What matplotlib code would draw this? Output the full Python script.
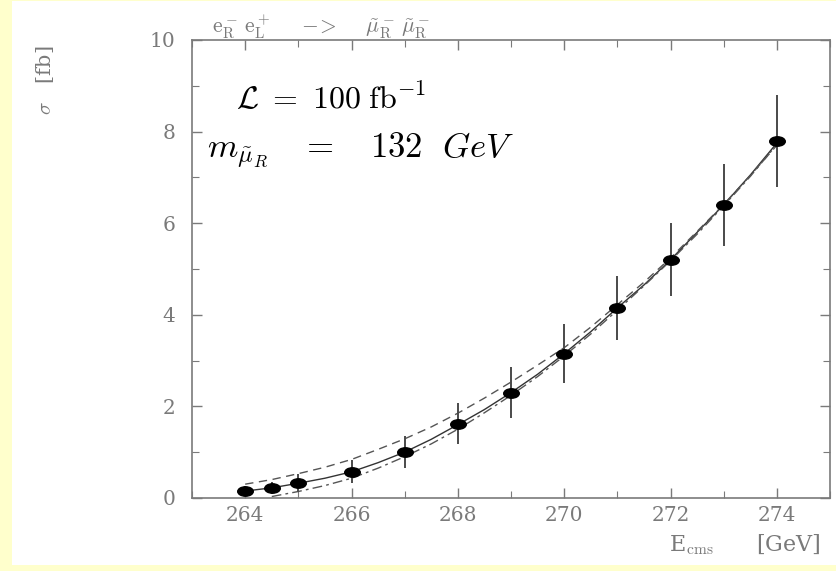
import matplotlib
matplotlib.use("Agg")
import matplotlib.pyplot as plt
from matplotlib.markers import MarkerStyle
from matplotlib.transforms import Affine2D
from matplotlib.patches import Rectangle

# Datos (seccion eficaz cerca del umbral)
energia = [264, 264.5, 265, 266, 267, 268, 269, 270, 271, 272, 273, 274]
sigma = [0.15, 0.22, 0.32, 0.57, 1.0, 1.62, 2.3, 3.15, 4.15, 5.2, 6.4, 7.8]
error = [0.1, 0.13, 0.2, 0.25, 0.35, 0.45, 0.55, 0.65, 0.7, 0.8, 0.9, 1.0]

# Curvas de ajuste (valores leidos cada 0.5 GeV)
e_curva = [264, 264.5, 265, 265.5, 266, 266.5, 267, 267.5, 268, 268.5, 269,
           269.5, 270, 270.5, 271, 271.5, 272, 272.5, 273, 273.5, 274]
ajuste = [0.15, 0.22, 0.32, 0.43, 0.57, 0.77, 1.0, 1.28, 1.6, 1.93, 2.3,
          2.7, 3.15, 3.63, 4.15, 4.65, 5.2, 5.8, 6.4, 7.05, 7.75]
ajuste_sup = [0.3, 0.4, 0.53, 0.67, 0.84, 1.06, 1.29, 1.55, 1.85, 2.18, 2.53,
              2.9, 3.28, 3.73, 4.22, 4.71, 5.24, 5.82, 6.41, 7.04, 7.7]
e_inf = [264.5, 265, 265.5, 266, 266.5, 267, 267.5, 268, 268.5, 269,
         269.5, 270, 270.5, 271, 271.5, 272, 272.5, 273, 273.5, 274]
ajuste_inf = [0.03, 0.14, 0.27, 0.43, 0.65, 0.9, 1.18, 1.5, 1.86, 2.24,
              2.65, 3.1, 3.58, 4.1, 4.63, 5.18, 5.76, 6.38, 7.02, 7.72]

plt.rcParams['mathtext.fontset'] = 'cm'
gris = '#7a7a7a'

fig = plt.figure(figsize=(8.37, 5.71), dpi=100)
fig.patch.set_facecolor('#FFFFCC')
# panel blanco del fondo
fig.patches.append(Rectangle((0.0143, 0.0105), 0.99, 0.988, transform=fig.transFigure,
                             facecolor='white', edgecolor='none', zorder=-10))

ax = fig.add_axes([0.2294, 0.128, 0.7623, 0.802])
ax.set_facecolor('white')

ax.plot(e_curva, ajuste, color='#333333', linewidth=1.0, zorder=2)
ax.plot(e_curva, ajuste_sup, color='#555555', linewidth=1.0, linestyle=(0, (6, 4)), zorder=2)
ax.plot(e_inf, ajuste_inf, color='#555555', linewidth=1.0, linestyle=(0, (7, 3, 2, 3)), zorder=2)

ax.errorbar(energia, sigma, yerr=error, fmt='none', ecolor='#4a4a4a', elinewidth=1.4, capsize=0, zorder=3)
elipse = MarkerStyle('o', transform=Affine2D().scale(1.65, 1.0))
ax.plot(energia, sigma, linestyle='none', marker=elipse, markersize=6.8, color='black', zorder=4)

ax.set_xlim(263, 275)
ax.set_ylim(0, 10)
ax.set_xticks([264, 266, 268, 270, 272, 274])
ax.set_xticks(range(263, 276), minor=True)
ax.set_yticks([0, 2, 4, 6, 8, 10])
ax.set_yticks(range(0, 11), minor=True)
ax.tick_params(which='both', direction='in', top=True, right=True, color=gris, labelcolor=gris)
ax.tick_params(which='major', length=7, width=1.0)
ax.tick_params(which='minor', length=5, width=0.8)
ax.tick_params(axis='y', pad=12)
ax.tick_params(axis='x', pad=6)
for lab in ax.get_xticklabels() + ax.get_yticklabels():
    lab.set_fontfamily('DejaVu Serif')
    lab.set_fontsize(14.5)
for s in ax.spines.values():
    s.set_color(gris)
    s.set_linewidth(1.2)

# Textos
ax.text(263.83, 8.5, r'$\mathcal{L}\ =\ 100\;\mathrm{fb}^{-1}$', fontsize=23, color='black',
        va='baseline', ha='left', zorder=5,
        bbox=dict(facecolor='white', edgecolor='none', pad=3))
ax.text(263.28, 7.42, r'$m_{\tilde{\mu}_R}\ \ \ =\ \ \ 132\ \ GeV$', fontsize=25, color='black',
        va='baseline', ha='left', zorder=5)

fig.text(0.253, 0.942, r'$\mathrm{e}^-_\mathrm{R}\,\mathrm{e}^+_\mathrm{L}\quad\ -\!\!>\quad\ \tilde{\mu}^-_\mathrm{R}\,\tilde{\mu}^-_\mathrm{R}$',
         fontsize=15.5, color=gris, ha='left', va='baseline')
fig.text(0.054, 0.86, r'$\sigma$   [fb]', rotation=90, fontsize=15, color=gris,
         family='DejaVu Serif', ha='center', va='center')
fig.text(0.98, 0.035, r'E$_\mathrm{cms}$      [GeV]', fontsize=16, color=gris,
         family='DejaVu Serif', ha='right', va='baseline')

plt.savefig('out.png', dpi=100, facecolor=fig.get_facecolor())
